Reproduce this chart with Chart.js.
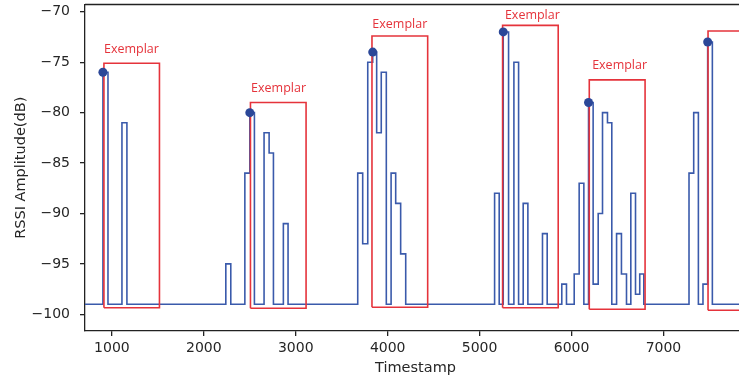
<!DOCTYPE html>
<html>
<head>
<meta charset="utf-8">
<script src="https://cdn.jsdelivr.net/npm/chart.js@4.4.1/dist/chart.umd.min.js"></script>
<style>
  html, body { margin: 0; padding: 0; background: #fff; overflow: hidden; }
  #wrap { width: 760px; height: 381px; }
</style>
</head>
<body>
<div id="wrap"><canvas id="rssiChart"></canvas></div>
<script>
// RSSI trace (step-post: each value holds until the next timestamp)
var timestamps = [700, 902, 957, 1109, 1163, 2239, 2293, 2446, 2500, 2550, 2655, 2710, 2757, 2865, 2916,
  3674, 3728, 3783, 3837, 3880, 3930, 3985, 4037, 4087, 4141, 4196,
  5163, 5213, 5257, 5315, 5373, 5424, 5474, 5525, 5684, 5735, 5894, 5945, 6029, 6083, 6134,
  6185, 6235, 6290, 6337, 6391, 6438, 6490, 6543, 6598, 6645, 6696, 6742, 6786,
  7278, 7329, 7380, 7430, 7481, 7532, 7950];
var rssi = [-99, -76, -99, -81, -99, -95, -99, -86, -80, -99, -82, -84, -99, -91, -99,
  -86, -93, -75, -74, -82, -76, -99, -86, -89, -94, -99,
  -88, -99, -72, -99, -75, -99, -89, -99, -92, -99, -97, -99, -96, -87, -99,
  -79, -97, -90, -80, -81, -99, -92, -96, -99, -88, -98, -96, -99,
  -86, -80, -99, -97, -73, -99, -99];

// peaks marked with dots
var peakTimes = [902, 2500, 3837, 5257, 6185, 7481];
var peakValues = [-76, -80, -74, -72, -79, -73];

// exemplar windows
var winStart = [913, 2507, 3829, 5250, 6193, 7485];
var winEnd = [1517, 3112, 4435, 5855, 6800, 8090];
var winTop = [-75.1, -79, -72.4, -71.35, -76.75, -71.9];
var winBottom = [-99.35, -99.4, -99.3, -99.35, -99.5, -99.6];

// exemplar labels (last one falls outside the picture)
var labelX = [913, 2514, 3833, 5275, 6224];
var labelY = [-73.7, -77.6, -71.25, -70.35, -75.35];

var xTicks = [1000, 2000, 3000, 4000, 5000, 6000, 7000];
var yTicks = [-100, -95, -90, -85, -80, -75, -70];

var tracePoints = timestamps.map(function (t, i) { return { x: t, y: rssi[i] }; });
var peakPoints = peakTimes.map(function (t, i) { return { x: t, y: peakValues[i] }; });
var boxPoints = [];
winStart.forEach(function (s, i) {
  boxPoints.push({ x: s, y: winBottom[i] }, { x: s, y: winTop[i] }, { x: winEnd[i], y: winTop[i] },
    { x: winEnd[i], y: winBottom[i] }, { x: s, y: winBottom[i] }, { x: s, y: null });
});

var minus = function (v) { return String(v).replace('-', '\u2212'); };

var frame = {
  id: 'frame',
  afterDraw: function (chart) {
    var a = chart.chartArea, ctx = chart.ctx;
    ctx.save();
    ctx.strokeStyle = '#222';
    ctx.lineWidth = 1.3;
    ctx.beginPath();
    ctx.moveTo(a.left, a.top);
    ctx.lineTo(a.right, a.top);
    ctx.lineTo(a.right, a.bottom);
    ctx.stroke();
    ctx.restore();
  }
};

var exemplarLabels = {
  id: 'exemplarLabels',
  afterDatasetsDraw: function (chart) {
    var ctx = chart.ctx, sx = chart.scales.x, sy = chart.scales.y;
    ctx.save();
    ctx.font = '12.5px "Open Sans"';
    ctx.fillStyle = '#e5333b';
    ctx.textAlign = 'left';
    ctx.textBaseline = 'middle';
    labelX.forEach(function (x, i) {
      ctx.fillText('Exemplar', sx.getPixelForValue(x), sy.getPixelForValue(labelY[i]));
    });
    ctx.restore();
  }
};

var tickFont = { family: 'DejaVu Sans', size: 14 };
var titleFont = { family: 'DejaVu Sans', size: 14.5 };

new Chart(document.getElementById('rssiChart'), {
  type: 'line',
  data: {
    datasets: [{
      data: tracePoints,
      stepped: 'before',
      borderColor: '#3a5aab',
      borderWidth: 1.6,
      pointRadius: 0,
      fill: false,
      order: 3
    }, {
      data: boxPoints,
      borderColor: '#e5333b',
      borderWidth: 1.6,
      pointRadius: 0,
      fill: false,
      spanGaps: false,
      order: 2
    }, {
      data: peakPoints,
      showLine: false,
      pointRadius: 4.5,
      pointBackgroundColor: '#2b4798',
      pointBorderWidth: 0,
      order: 1
    }]
  },
  options: {
    responsive: true,
    maintainAspectRatio: false,
    animation: false,
    events: [],
    layout: { padding: { left: 0, top: 3, right: 14, bottom: 0 } },
    plugins: { legend: { display: false }, tooltip: { enabled: false } },
    scales: {
      x: {
        type: 'linear',
        min: 707,
        max: 7898,
        afterFit: function (s) { s.height = 50; s.paddingLeft = 0; s.paddingRight = 0; },
        afterBuildTicks: function (s) { s.ticks = xTicks.map(function (v) { return { value: v }; }); },
        ticks: { font: tickFont, color: '#262626', padding: 4, maxRotation: 0, callback: function (v) { return v; } },
        grid: { drawOnChartArea: false, drawTicks: true, tickLength: 5, color: '#222', lineWidth: 1.3 },
        border: { display: true, color: '#222', width: 1.3 },
        title: { display: true, text: 'Timestamp', font: titleFont, color: '#262626', padding: { top: 0, bottom: 4.3 } }
      },
      y: {
        type: 'linear',
        min: -101.65,
        max: -69.28,
        afterFit: function (s) { s.width = 85; s.paddingTop = 0; s.paddingBottom = 0; },
        afterBuildTicks: function (s) { s.ticks = yTicks.map(function (v) { return { value: v }; }); },
        ticks: { font: tickFont, color: '#262626', padding: 10, callback: minus },
        grid: { drawOnChartArea: false, drawTicks: true, tickLength: 5, color: '#222', lineWidth: 1.3 },
        border: { display: true, color: '#222', width: 1.3 },
        title: { display: true, text: 'RSSI Amplitude(dB)', font: titleFont, color: '#262626', padding: { top: 12.3, bottom: 0 } }
      }
    }
  },
  plugins: [frame, exemplarLabels]
});
</script>
</body>
</html>
